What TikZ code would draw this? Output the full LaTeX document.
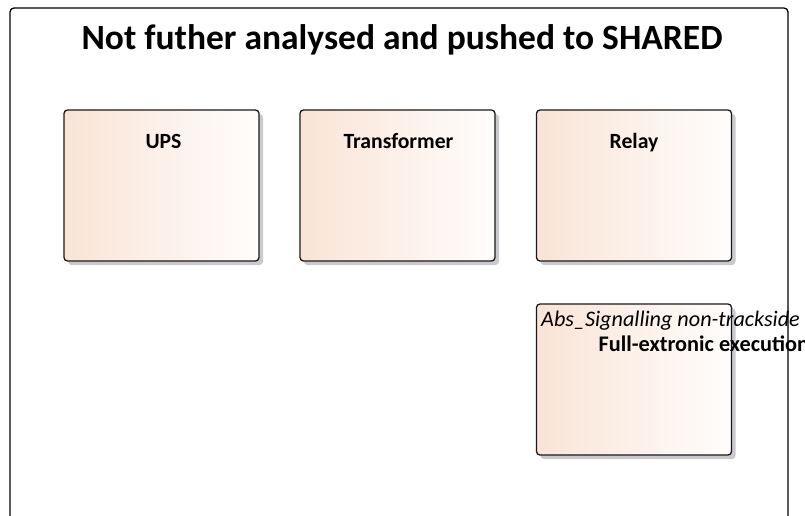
\documentclass[tikz,border=0pt]{standalone}
\usepackage{fontspec}
\setmainfont{Carlito}
\usetikzlibrary{shadows}
\definecolor{peach}{HTML}{F9E4D6}
\definecolor{paleend}{HTML}{FFFDFC}
\definecolor{shadowgray}{HTML}{C9C9CE}
\definecolor{edge}{HTML}{1A1A1A}
\tikzset{
  box/.style={draw=edge, line width=1.3pt, rounded corners=3.5pt,
    left color=peach, right color=paleend,
    minimum width=195pt, minimum height=151pt, inner sep=0pt,
    drop shadow={shadow xshift=4pt, shadow yshift=-4pt, fill=shadowgray, opacity=1}},
  lbl/.style={font=\fontsize{21.7}{26}\selectfont\bfseries, inner sep=0pt, anchor=base},
  ilbl/.style={font=\fontsize{22.2}{26}\selectfont\itshape, inner sep=0pt, anchor=base west},
  blbl/.style={font=\fontsize{22.3}{26}\selectfont\bfseries, inner sep=0pt, anchor=base west},
  title/.style={font=\fontsize{35.5}{42}\selectfont\bfseries, inner sep=0pt, anchor=base},
  frame/.style={draw=black, line width=1.3pt, rounded corners=4pt}
}
\begin{document}
\begin{tikzpicture}[x=1pt,y=-1pt]
\useasboundingbox (0,0) rectangle (805,515);
\clip (0,0) rectangle (805,515);
\fill[white] (0,0) rectangle (805,515);
\node[title] (t) at (402,49) {Not futher analysed and pushed to SHARED};
\node[box] (ups) at (161.5,185.5) {};
\node[box] (tr) at (397.5,185.5) {};
\node[box] (rel) at (634,185.5) {};
\node[box] (full) at (634,379.5) {};
\node[lbl] (upsl) at (163.5,148) {UPS};
\node[lbl] (trl) at (398.5,148) {Transformer};
\node[lbl] (rell) at (634,148) {Relay};
\node[ilbl] (absl) at (541,326) {Abs\_Signalling non-trackside};
\node[blbl] (fulll) at (598.5,351) {Full-extronic execution};
\draw[frame] (10,8) rectangle (788,545);
\end{tikzpicture}
\end{document}
